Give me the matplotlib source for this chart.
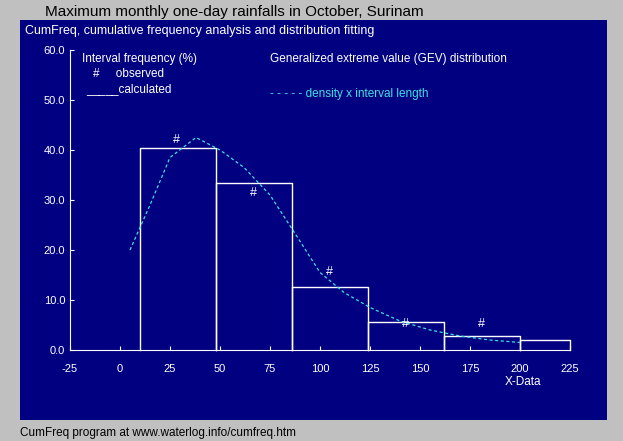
import matplotlib
matplotlib.use("Agg")
import matplotlib.pyplot as plt

bin_edges = [10, 48, 86, 124, 162, 200, 238]
calc_freq = [40.5, 33.5, 12.7, 5.7, 2.8, 2.0]
obs_x = [28, 66.5, 104.5, 142.5, 180.5]
obs_y = [42.0, 31.5, 15.6, 5.2, 5.2]
dens_x = [5, 15, 25, 38, 50, 62, 75, 88, 100, 112, 125, 140, 155, 170, 185, 200]
dens_y = [20.0, 29.0, 38.5, 42.5, 40.0, 36.5, 31.0, 23.0, 15.5, 11.5, 8.5, 5.8, 4.0, 2.8, 2.0, 1.5]
xticks = [-25, 0, 25, 50, 75, 100, 125, 150, 175, 200, 225]
yticks = [0, 10, 20, 30, 40, 50, 60]

plt.rcParams['font.family'] = ['Liberation Sans', 'DejaVu Sans']
plt.rcParams['axes.unicode_minus'] = False
W, H = 623, 441
fig = plt.figure(figsize=(W/100, H/100), dpi=100, facecolor='#c0c0c0')
fig.patches.append(plt.Rectangle((20/W, 1-420/H), 587/W, 400/H, transform=fig.transFigure,
                                 facecolor='#000080', edgecolor='none', zorder=-10))
ax = fig.add_axes([70/W, 1-350/H, 500/W, 300/H])
ax.set_facecolor('none')
ax.set_xlim(-25, 225)
ax.set_ylim(0, 60)
for s in ['top', 'right']:
    ax.spines[s].set_visible(False)
for s in ['left', 'bottom']:
    ax.spines[s].set_color('white')
ax.set_xticks(xticks)
ax.set_yticks(yticks)
ax.set_yticklabels([f"{v:.1f}" for v in yticks])
ax.tick_params(colors='white', labelsize=8, length=3, direction='in')
ax.tick_params(axis='x', pad=10)

for i, h in enumerate(calc_freq):
    l, r = bin_edges[i], min(bin_edges[i+1], 225)
    ax.plot([l, l, r, r], [0, h, h, 0], color='white', lw=1, clip_on=False)
ax.plot(dens_x, dens_y, color='#40e0e0', lw=0.9, ls=(0, (2.5, 2)))
for x, y in zip(obs_x, obs_y):
    ax.text(x, y, '#', color='white', fontsize=9, ha='center', va='center')

fig.text(45/W, 1-12/H, 'Maximum monthly one-day rainfalls in October, Surinam', fontsize=11, va='center')
fig.text(25/W, 1-31/H, 'CumFreq, cumulative frequency analysis and distribution fitting', fontsize=9, color='white', va='center')
fig.text(82/W, 1-59/H, 'Interval frequency (%)', fontsize=8.5, color='white', va='center')
fig.text(93/W, 1-74/H, '#     observed', fontsize=8.5, color='white', va='center')
fig.text(86/W, 1-92/H, '_____calculated', fontsize=8.5, color='white', va='baseline')
fig.text(270/W, 1-59/H, 'Generalized extreme value (GEV) distribution', fontsize=8.5, color='white', va='center')
fig.text(270/W, 1-94/H, '- - - - - density x interval length', fontsize=8.5, color='#40e0e0', va='center')
fig.text(505/W, 1-382/H, 'X-Data', fontsize=8.5, color='white', va='center')
fig.text(20/W, 1-433/H, 'CumFreq program at www.waterlog.info/cumfreq.htm', fontsize=8.5, va='center')
fig.savefig('out.png', dpi=100, facecolor=fig.get_facecolor())
